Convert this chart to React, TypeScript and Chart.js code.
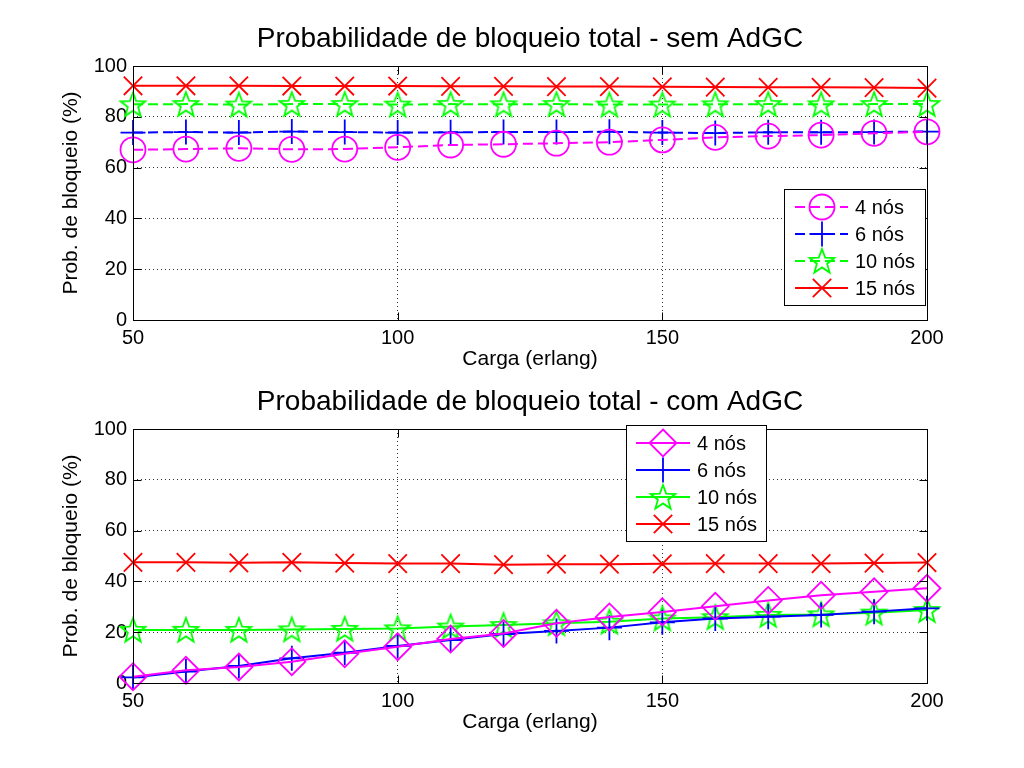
import React, { useEffect, useRef } from 'react';
import { Chart, registerables } from 'chart.js';

Chart.register(...registerables);

// ---------- data ----------
const loads = [50, 60, 70, 80, 90, 100, 110, 120, 130, 140, 150, 160, 170, 180, 190, 200];
const seriesLabels = ['4 nós', '6 nós', '10 nós', '15 nós'];

const sem4 = [67, 67.3, 67.6, 67.2, 67.3, 68, 68.9, 69.2, 69.6, 70, 70.9, 71.9, 72.4, 72.8, 73.5, 74.1];
const sem6 = [73.8, 74, 73.8, 74.2, 74, 73.8, 73.9, 74, 74, 74.1, 73.8, 73.6, 73.9, 73.9, 74, 74.2];
const sem10 = [84.9, 85, 84.8, 85, 85, 84.8, 85, 84.9, 85, 84.8, 84.8, 84.9, 85, 84.9, 85, 85];
const sem15 = [92.2, 92.2, 92.2, 92.1, 92.1, 92.1, 92, 92, 91.9, 91.9, 91.8, 91.7, 91.6, 91.6, 91.5, 91.3];

const com4 = [2.5, 5, 6.3, 8.4, 11.5, 14.3, 17.3, 19.5, 23.5, 26, 28, 30.2, 32.5, 34.5, 35.9, 37.3];
const com6 = [2.2, 4.5, 6.7, 9.7, 11.9, 14.6, 16.9, 19.3, 20.5, 21.8, 23.9, 25.4, 26.1, 26.8, 28.1, 29.4];
const com10 = [20.9, 20.9, 20.9, 21.1, 21.3, 21.5, 22.2, 22.8, 23.5, 24.1, 25.4, 25.9, 26.8, 27, 27.7, 28.7];
const com15 = [47.5, 47.5, 47.3, 47.5, 47.2, 47, 47, 46.6, 46.8, 46.8, 46.9, 47, 47, 47, 47.2, 47.4];

const xTickValues = [50, 100, 150, 200];
const yTickValues = [0, 20, 40, 60, 80, 100];

const titleSem = 'Probabilidade de bloqueio total - sem AdGC';
const titleCom = 'Probabilidade de bloqueio total - com AdGC';
const xTitle = 'Carga (erlang)';
const yTitle = 'Prob. de bloqueio (%)';

// ---------- styles ----------
const FONT = '"Liberation Sans", Arial, Helvetica, sans-serif';
const MAGENTA = '#ff00ff';
const BLUE = '#0000ff';
const GREEN = '#00ff00';
const RED = '#ff0000';

function makeStar(color: string): HTMLCanvasElement {
  const c = document.createElement('canvas');
  const s = 30;
  c.width = s;
  c.height = s;
  const ctx = c.getContext('2d')!;
  const cx = s / 2;
  const cy = s / 2 + 1;
  const R = 13;
  const r = 5.4;
  ctx.beginPath();
  for (let i = 0; i < 10; i++) {
    const ang = -Math.PI / 2 + (i * Math.PI) / 5;
    const rad = i % 2 === 0 ? R : r;
    const px = cx + rad * Math.cos(ang);
    const py = cy + rad * Math.sin(ang);
    if (i === 0) ctx.moveTo(px, py);
    else ctx.lineTo(px, py);
  }
  ctx.closePath();
  ctx.strokeStyle = color;
  ctx.lineWidth = 1.8;
  ctx.stroke();
  return c;
}

function drawMarker(ctx: CanvasRenderingContext2D, style: any, x: number, y: number, r: number, color: string) {
  ctx.save();
  ctx.strokeStyle = color;
  ctx.lineWidth = 1.8;
  ctx.setLineDash([]);
  ctx.beginPath();
  if (style instanceof HTMLCanvasElement) {
    ctx.drawImage(style, x - style.width / 2, y - style.height / 2);
  } else if (style === 'circle') {
    ctx.arc(x, y, r, 0, Math.PI * 2);
    ctx.stroke();
  } else if (style === 'cross') {
    ctx.moveTo(x - r, y);
    ctx.lineTo(x + r, y);
    ctx.moveTo(x, y - r);
    ctx.lineTo(x, y + r);
    ctx.stroke();
  } else if (style === 'crossRot') {
    const d = r * Math.SQRT1_2;
    ctx.moveTo(x - d, y - d);
    ctx.lineTo(x + d, y + d);
    ctx.moveTo(x + d, y - d);
    ctx.lineTo(x - d, y + d);
    ctx.stroke();
  } else if (style === 'rectRot') {
    ctx.moveTo(x, y - r);
    ctx.lineTo(x + r, y);
    ctx.lineTo(x, y + r);
    ctx.lineTo(x - r, y);
    ctx.closePath();
    ctx.stroke();
  }
  ctx.restore();
}

type LegendBox = { x: number; y: number; w: number; h: number; first: number; step: number; lineStart: number; lineEnd: number; marker: number; text: number };

function axesPlugin(box: LegendBox) {
  return {
    id: 'matlabAxes',
    afterDraw(chart: any) {
      const ctx: CanvasRenderingContext2D = chart.ctx;
      const { left, right, top, bottom } = chart.chartArea;
      const xs = chart.scales.x;
      const ys = chart.scales.y;
      ctx.save();
      ctx.strokeStyle = '#000';
      ctx.lineWidth = 1;
      ctx.setLineDash([]);
      const L = Math.round(left) + 0.5;
      const R = Math.round(right) + 0.5;
      const T = Math.round(top) + 0.5;
      const B = Math.round(bottom) + 0.5;
      ctx.strokeRect(L, T, R - L, B - T);
      ctx.beginPath();
      const tl = 8;
      xTickValues.forEach((v) => {
        const px = Math.round(xs.getPixelForValue(v)) + 0.5;
        ctx.moveTo(px, B);
        ctx.lineTo(px, B - tl);
        ctx.moveTo(px, T);
        ctx.lineTo(px, T + tl);
      });
      yTickValues.forEach((v) => {
        const py = Math.round(ys.getPixelForValue(v)) + 0.5;
        ctx.moveTo(L, py);
        ctx.lineTo(L + tl, py);
        ctx.moveTo(R, py);
        ctx.lineTo(R - tl, py);
      });
      ctx.stroke();

      // legend
      ctx.fillStyle = '#fff';
      ctx.fillRect(box.x, box.y, box.w, box.h);
      ctx.strokeStyle = '#000';
      ctx.strokeRect(box.x + 0.5, box.y + 0.5, box.w, box.h);
      chart.data.datasets.forEach((ds: any, i: number) => {
        const y = box.y + box.first + i * box.step;
        ctx.save();
        ctx.strokeStyle = ds.borderColor;
        ctx.lineWidth = 2;
        ctx.setLineDash(ds.borderDash || []);
        ctx.beginPath();
        ctx.moveTo(box.x + box.lineStart, y);
        ctx.lineTo(box.x + box.lineEnd, y);
        ctx.stroke();
        ctx.restore();
        drawMarker(ctx, ds.pointStyle, box.x + box.marker, y, ds.pointRadius, ds.borderColor);
        ctx.fillStyle = '#000';
        ctx.font = `20px ${FONT}`;
        ctx.textBaseline = 'middle';
        ctx.textAlign = 'left';
        ctx.fillText(ds.label, box.x + box.text, y + 1);
      });
      ctx.restore();
    },
  };
}

function makeConfig(title: string, series: number[][], dashed: boolean, markers: any[], radii: number[], box: LegendBox) {
  const colors = [MAGENTA, BLUE, GREEN, RED];
  const datasets = series.map((vals, i) => ({
    label: seriesLabels[i],
    data: loads.map((x, j) => ({ x, y: vals[j] })),
    borderColor: colors[i],
    backgroundColor: 'rgba(0,0,0,0)',
    borderWidth: 2,
    borderDash: dashed && i < 3 ? [10, 5] : [],
    pointStyle: markers[i],
    pointRadius: radii[i],
    pointBorderWidth: 1.8,
    pointBorderColor: colors[i],
    pointBackgroundColor: 'rgba(0,0,0,0)',
    tension: 0,
    clip: false as any,
  }));
  return {
    type: 'line' as const,
    data: { datasets },
    options: {
      responsive: false,
      animation: false as const,
      events: [] as any[],
      layout: { padding: { left: 59, right: 97, top: 0, bottom: 0 } },
      plugins: {
        legend: { display: false },
        tooltip: { enabled: false },
        title: {
          display: true,
          text: title,
          color: '#000',
          fullSize: false,
          font: { size: 28, family: FONT, weight: 'normal' as const },
          padding: { top: 22, bottom: 10.4 },
        },
      },
      scales: {
        x: {
          type: 'linear' as const,
          min: 50,
          max: 200,
          afterBuildTicks: (s: any) => {
            s.ticks = xTickValues.map((v) => ({ value: v }));
          },
          afterFit: (s: any) => {
            s.height = 52;
          },
          grid: { color: '#333', lineWidth: 1, drawTicks: false },
          border: { display: false, dash: [1, 3] },
          ticks: { padding: 6, color: '#000', font: { size: 20, family: FONT }, maxRotation: 0, autoSkip: false },
          title: { display: true, text: xTitle, color: '#000', font: { size: 21, family: FONT }, padding: { top: 0, bottom: 0 } },
        },
        y: {
          type: 'linear' as const,
          min: 0,
          max: 100,
          afterBuildTicks: (s: any) => {
            s.ticks = yTickValues.map((v) => ({ value: v }));
          },
          afterFit: (s: any) => {
            s.width = 74;
          },
          grid: { color: '#333', lineWidth: 1, drawTicks: false },
          border: { display: false, dash: [1, 3] },
          ticks: { padding: 6, color: '#000', font: { size: 20, family: FONT }, autoSkip: false },
          title: { display: true, text: yTitle, color: '#000', font: { size: 21, family: FONT }, padding: { top: 0, bottom: 0 } },
        },
      },
    },
    plugins: [axesPlugin(box)],
  };
}

const topBox: LegendBox = { x: 784, y: 189, w: 141, h: 116, first: 18, step: 27, lineStart: 11, lineEnd: 64, marker: 38, text: 71 };
const bottomBox: LegendBox = { x: 626, y: 62, w: 140, h: 116, first: 18, step: 27, lineStart: 10, lineEnd: 64, marker: 37, text: 71 };

export default function App() {
  const topRef = useRef<HTMLCanvasElement>(null);
  const botRef = useRef<HTMLCanvasElement>(null);

  useEffect(() => {
    const star = makeStar(GREEN);
    const c1 = new Chart(
      topRef.current!,
      makeConfig(titleSem, [sem4, sem6, sem10, sem15], true, ['circle', 'cross', star, 'crossRot'], [12.5, 12.5, 13, 13], topBox) as any
    );
    const c2 = new Chart(
      botRef.current!,
      makeConfig(titleCom, [com4, com6, com10, com15], false, ['rectRot', 'cross', star, 'crossRot'], [13.5, 12.5, 13, 13], bottomBox) as any
    );
    return () => {
      c1.destroy();
      c2.destroy();
    };
  }, []);

  return (
    <div style={{ position: 'absolute', left: 0, top: 0, width: 1024, height: 768, background: '#fff' }}>
      <canvas ref={topRef} width={1024} height={372} style={{ position: 'absolute', left: 0, top: 0 }} />
      <canvas ref={botRef} width={1024} height={372} style={{ position: 'absolute', left: 0, top: 363 }} />
    </div>
  );
}
